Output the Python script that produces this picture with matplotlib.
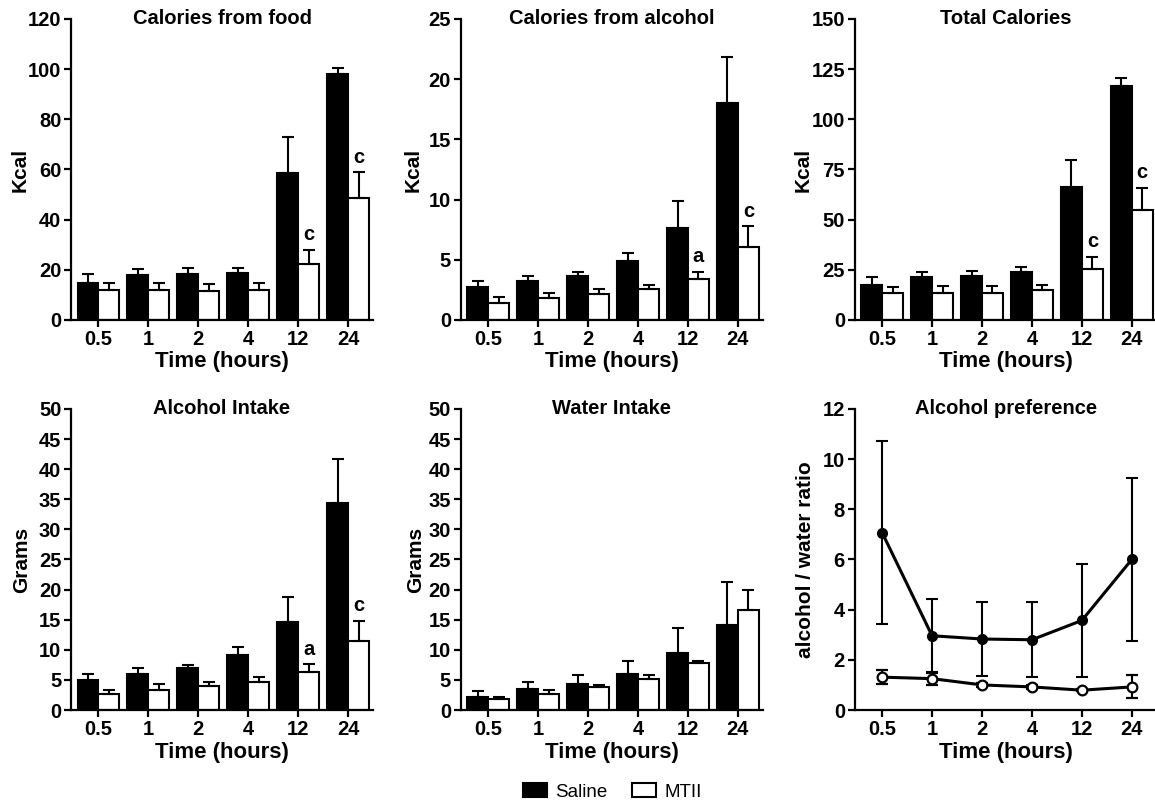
import numpy as np
import matplotlib.pyplot as plt
from matplotlib.patches import Patch

plt.rcParams['font.family'] = ['Liberation Sans', 'DejaVu Sans']
plt.rcParams['font.weight'] = 'bold'

times = ['0.5', '1', '2', '4', '12', '24']

# Calories from food (Kcal)
food_saline = [14.9, 17.8, 18.2, 18.9, 58.7, 98.1]
food_saline_err = [3.4, 2.7, 2.7, 2.0, 14.4, 2.4]
food_mtii = [11.8, 11.8, 11.6, 11.8, 22.2, 48.5]
food_mtii_err = [2.8, 2.8, 2.6, 2.8, 5.7, 10.4]
food_marks = ['', '', '', '', 'c', 'c']

# Calories from alcohol (Kcal)
alc_cal_saline = [2.77, 3.24, 3.65, 4.9, 7.67, 18.05]
alc_cal_saline_err = [0.45, 0.4, 0.3, 0.7, 2.25, 3.8]
alc_cal_mtii = [1.44, 1.85, 2.16, 2.6, 3.38, 6.06]
alc_cal_mtii_err = [0.44, 0.36, 0.41, 0.28, 0.63, 1.74]
alc_cal_marks = ['', '', '', '', 'a', 'c']

# Total calories (Kcal)
total_saline = [17.5, 21.2, 21.8, 23.7, 66.5, 116.7]
total_saline_err = [3.7, 2.5, 2.4, 2.5, 13.2, 4.0]
total_mtii = [13.5, 13.5, 13.5, 14.7, 25.3, 54.7]
total_mtii_err = [2.8, 3.2, 3.2, 2.5, 6.2, 11.3]
total_marks = ['', '', '', '', 'c', 'c']

# Alcohol intake (g)
alc_saline = [5.06, 6.06, 6.9, 9.17, 14.67, 34.4]
alc_saline_err = [0.95, 0.85, 0.65, 1.35, 4.1, 7.3]
alc_mtii = [2.6, 3.4, 4.06, 4.7, 6.3, 11.4]
alc_mtii_err = [0.8, 0.9, 0.65, 0.7, 1.3, 3.4]
alc_marks = ['', '', '', '', 'a', 'c']

# Water intake (g)
water_saline = [2.1, 3.44, 4.4, 6.0, 9.4, 14.05]
water_saline_err = [1.0, 1.15, 1.4, 2.2, 4.2, 7.15]
water_mtii = [1.83, 2.7, 3.8, 5.2, 7.8, 16.6]
water_mtii_err = [0.37, 0.6, 0.4, 0.6, 0.3, 3.3]
water_marks = ['', '', '', '', '', '']

# Alcohol preference (alcohol / water ratio)
pref_saline = [7.07, 2.96, 2.83, 2.8, 3.57, 6.0]
pref_saline_err = [3.64, 1.45, 1.47, 1.49, 2.26, 3.23]
pref_mtii = [1.31, 1.25, 1.0, 0.92, 0.79, 0.92]
pref_mtii_err = [0.28, 0.24, 0.08, 0.08, 0.05, 0.46]

fig = plt.figure(figsize=(11.55, 8.01), dpi=100)

lefts = [0.0615, 0.399, 0.740]
w = 0.2615
h = 0.3758
bottoms = [0.6005, 0.1136]


def style_axes(ax, title, ylabel, ymax, step, ylab_x):
    for s in ['top', 'right']:
        ax.spines[s].set_visible(False)
    for s in ['left', 'bottom']:
        ax.spines[s].set_linewidth(1.6)
    ax.set_xlim(-0.55, 5.5)
    ax.set_ylim(0, ymax)
    ax.set_yticks(np.arange(0, ymax + step / 2, step))
    ax.set_xticks(range(len(times)))
    ax.set_xticklabels(times)
    ax.tick_params(width=1.6, length=5, labelsize=14.5, pad=2)
    ax.set_xlabel('Time (hours)', fontsize=16, fontweight='bold', labelpad=2)
    ax.set_ylabel(ylabel, fontsize=15, fontweight='bold')
    ax.yaxis.set_label_coords(ylab_x, 0.5)
    ax.text(0.5, 1.0, title, transform=ax.transAxes, ha='center', va='center',
            fontsize=14.5, fontweight='bold')


def bar_panel(ax, sal, sal_err, mt, mt_err, marks, title, ylabel, ymax, step, ylab_x):
    x = np.arange(len(times))
    bw = 0.42
    zeros = np.zeros(len(times))
    ax.bar(x - bw / 2, sal, bw, color='black', edgecolor='black', linewidth=1.5,
           yerr=[zeros, sal_err], error_kw=dict(ecolor='black', elinewidth=1.5, capsize=4, capthick=1.5))
    ax.bar(x + bw / 2, mt, bw, color='white', edgecolor='black', linewidth=1.5,
           yerr=[zeros, mt_err], error_kw=dict(ecolor='black', elinewidth=1.5, capsize=4, capthick=1.5))
    for i, m in enumerate(marks):
        if m:
            ax.annotate(m, (x[i] + bw / 2, mt[i] + mt_err[i]), xytext=(0, 4),
                        textcoords='offset points', ha='center', va='bottom',
                        fontsize=14.5, fontweight='bold')
    style_axes(ax, title, ylabel, ymax, step, ylab_x)


ax1 = fig.add_axes([lefts[0], bottoms[0], w, h])
bar_panel(ax1, food_saline, food_saline_err, food_mtii, food_mtii_err, food_marks,
          'Calories from food', 'Kcal', 120, 20, -0.136)
ax2 = fig.add_axes([lefts[1], bottoms[0], w, h])
bar_panel(ax2, alc_cal_saline, alc_cal_saline_err, alc_cal_mtii, alc_cal_mtii_err, alc_cal_marks,
          'Calories from alcohol', 'Kcal', 25, 5, -0.126)
ax3 = fig.add_axes([lefts[2], bottoms[0], w, h])
bar_panel(ax3, total_saline, total_saline_err, total_mtii, total_mtii_err, total_marks,
          'Total Calories', 'Kcal', 150, 25, -0.139)
ax4 = fig.add_axes([lefts[0], bottoms[1], w, h])
bar_panel(ax4, alc_saline, alc_saline_err, alc_mtii, alc_mtii_err, alc_marks,
          'Alcohol Intake', 'Grams', 50, 5, -0.131)
ax5 = fig.add_axes([lefts[1], bottoms[1], w, h])
bar_panel(ax5, water_saline, water_saline_err, water_mtii, water_mtii_err, water_marks,
          'Water Intake', 'Grams', 50, 5, -0.118)

ax6 = fig.add_axes([lefts[2], bottoms[1], w, h])
x = np.arange(len(times))
ax6.errorbar(x, pref_saline, yerr=pref_saline_err, color='black', lw=2.2, marker='o',
             ms=7, mfc='black', mec='black', elinewidth=1.5, capsize=4.5, capthick=1.5)
ax6.errorbar(x, pref_mtii, yerr=pref_mtii_err, color='black', lw=2.2, marker='o',
             ms=7, mfc='white', mec='black', mew=1.6, elinewidth=1.5, capsize=4.5, capthick=1.5)
style_axes(ax6, 'Alcohol preference', 'alcohol / water ratio', 12, 2, -0.132)

handles = [Patch(facecolor='black', edgecolor='black', linewidth=1.5, label='Saline'),
           Patch(facecolor='white', edgecolor='black', linewidth=1.5, label='MTII')]
fig.legend(handles=handles, loc='center', bbox_to_anchor=(0.530, 0.0112), ncol=2,
           frameon=False, prop={'family': 'Liberation Sans', 'weight': 'normal', 'size': 13.5},
           handlelength=1.28, handleheight=0.75, columnspacing=1.3, handletextpad=0.45,
           borderpad=0.1)

fig.savefig('out.png', dpi=100)
